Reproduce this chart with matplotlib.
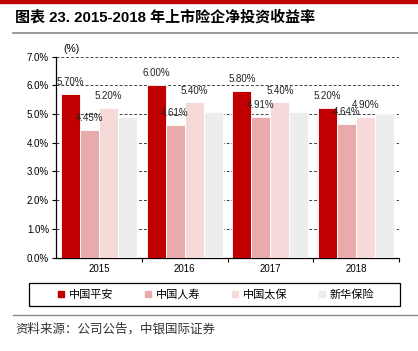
import matplotlib
matplotlib.use('Agg')
import matplotlib.pyplot as plt
import numpy as np
from matplotlib.lines import Line2D
from matplotlib.patches import Rectangle

plt.rcParams['font.family'] = ['Liberation Sans', 'Noto Sans CJK SC', 'DejaVu Sans']

years = ['2015', '2016', '2017', '2018']
companies = ['中国平安', '中国人寿', '中国太保', '新华保险']
pingan = [5.70, 6.00, 5.80, 5.20]
renshou = [4.45, 4.61, 4.91, 4.64]
taibao = [5.20, 5.40, 5.40, 4.90]
xinhua = [4.88, 5.08, 5.08, 5.00]
labels_pingan = ['5.70%', '6.00%', '5.80%', '5.20%']
labels_renshou = ['4.45%', '4.61%', '4.91%', '4.64%']
labels_taibao = ['5.20%', '5.40%', '5.40%', '4.90%']
colors = ['#C00000', '#E8AAAA', '#F6D9D9', '#EDEDED']

W, H = 418, 351
fig = plt.figure(figsize=(W / 100, H / 100), dpi=100)
ax = fig.add_axes([56 / W, 1 - 257.5 / H, (399 - 56) / W, (257.5 - 56.5) / H])

x = np.arange(len(years))
width = 0.222
series = [pingan, renshou, taibao, xinhua]
label_sets = [labels_pingan, labels_renshou, labels_taibao, None]
for i, (vals, col) in enumerate(zip(series, colors)):
    pos = x + (i - 1.5) * width
    ax.bar(pos, vals, width, color=col, edgecolor='white', linewidth=0.6, zorder=3)
    if label_sets[i]:
        for px, v, t in zip(pos, vals, label_sets[i]):
            ax.annotate(t, (px, v), xytext=(0, 8.5), textcoords='offset points',
                        ha='center', va='center', fontsize=7, color='#222222', zorder=4)

ax.set_xlim(-0.5, 3.5)
ax.set_ylim(0, 7)
ax.set_yticks(np.arange(0, 7.01, 1))
ax.set_yticklabels([f'{v:.1f}%' for v in np.arange(0, 7.01, 1)], fontsize=7)
ax.set_xticks(x)
ax.set_xticklabels(years, fontsize=7)
ax.set_xticks([0.5, 1.5, 2.5, 3.5], minor=True)
ax.tick_params(axis='x', which='major', length=0, pad=5)
ax.tick_params(axis='x', which='minor', length=3, width=0.8, direction='out')
ax.tick_params(axis='y', length=3, width=0.8, pad=2)
ax.grid(axis='y', color='#444444', linestyle=(0, (3, 2)), linewidth=0.7, zorder=0)
for s in ['top', 'right']:
    ax.spines[s].set_visible(False)
for s in ['left', 'bottom']:
    ax.spines[s].set_linewidth(0.9)
    ax.spines[s].set_color('black')

fig.text(71 / W, 1 - 49 / H, '(%)', fontsize=7.5, ha='center', va='center')

# header / footer decorations
fig.patches.append(Rectangle((0, 1 - 2.5 / H), 1, 2.5 / H, transform=fig.transFigure,
                             color='#C00000', zorder=5))
fig.add_artist(Line2D([13 / W, 1], [1 - 32.5 / H] * 2, color='#888888', linewidth=1.2))
fig.add_artist(Line2D([13 / W, 1], [1 - 315 / H] * 2, color='#888888', linewidth=1.0))
fig.text(15 / W, 1 - 17 / H, '图表 23. 2015-2018 年上市险企净投资收益率', fontsize=10.8,
         fontweight='bold', ha='left', va='center', family=['Liberation Sans', 'Noto Sans CJK SC'])
fig.text(15 / W, 1 - 329 / H, '资料来源：公司公告，中银国际证券', fontsize=9, style='italic',
         ha='left', va='center', color='#333333', family=['Noto Sans CJK SC', 'DejaVu Sans'])

# legend box
fig.patches.append(Rectangle((29 / W, 1 - 306 / H), (400 - 29) / W, (306 - 283) / H,
                             transform=fig.transFigure, fill=False, edgecolor='black',
                             linewidth=0.9))
handles = [Line2D([], [], marker='s', linestyle='none', markersize=4.5,
                  markerfacecolor=c, markeredgecolor=c) for c in colors]
fig.legend(handles, companies, loc='center', bbox_to_anchor=(216 / W, 1 - 294.5 / H),
           ncol=4, frameon=False, handlelength=0.6, handletextpad=0.4,
           columnspacing=2.8, prop={'family': ['Noto Sans CJK SC'], 'size': 8})

fig.savefig('out.png', dpi=100)
